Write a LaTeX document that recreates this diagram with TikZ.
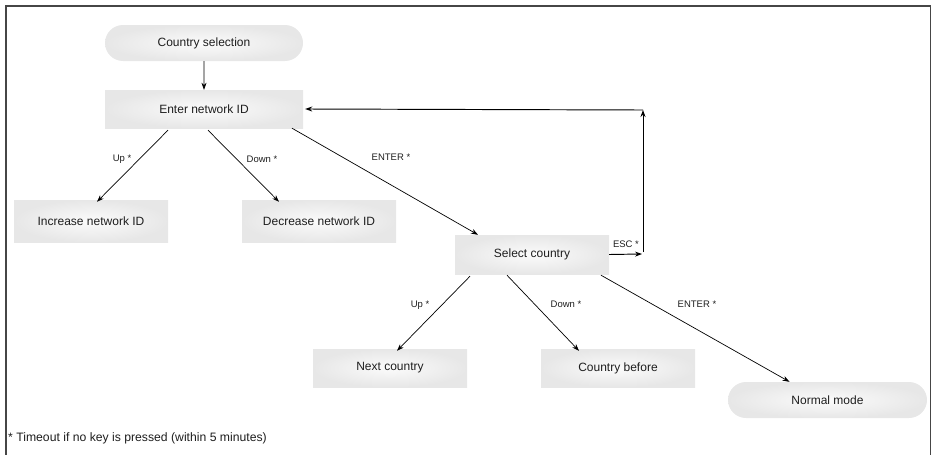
\documentclass[tikz,border=0pt]{standalone}
\usepackage{fontspec}
\setmainfont{Liberation Sans}
\usetikzlibrary{arrows.meta,shapes.misc}
\definecolor{boxedge}{RGB}{231,231,231}
\definecolor{boxmid}{RGB}{251,251,251}
\definecolor{frameline}{RGB}{70,70,70}
\definecolor{ink}{RGB}{30,30,30}
\tikzset{
  every node/.style={text=ink},
  statebox/.style={rectangle, inner sep=0pt, draw=none,
    inner color=boxmid, outer color=boxedge,
    font=\fontsize{12}{14}\selectfont},
  pillbox/.style={rounded rectangle, inner sep=0pt, draw=none,
    inner color=boxmid, outer color=boxedge,
    font=\fontsize{12}{14}\selectfont},
  keylabel/.style={font=\fontsize{9.5}{11}\selectfont, inner sep=0pt},
  flow/.style={draw=black, line width=0.7pt, -{Stealth[length=7pt,width=5pt]}},
  backflow/.style={draw=black, line width=0.95pt, -{Stealth[length=7pt,width=5pt]}},
}
\begin{document}
\begin{tikzpicture}[x=1pt,y=-1pt]
  \useasboundingbox (0,0) rectangle (932,455);
  % frame
  \draw[frameline, line width=1.6pt] (6,460) -- (6,6) -- (930.5,6) -- (930.5,460);

  % states
  \node[pillbox, minimum width=198pt, minimum height=36pt] (cs) at (204,43) {Country selection};
  \node[statebox, minimum width=198pt, minimum height=38pt] (enid) at (204,109) {Enter network ID};
  \node[statebox, minimum width=154pt, minimum height=42pt] (inc) at (91,221) {Increase network ID};
  \node[statebox, minimum width=154pt, minimum height=42pt] (dec) at (319,221) {Decrease network ID};
  \node[statebox, minimum width=154pt, minimum height=39pt] (sc) at (532,254.5) {Select country};
  \node[statebox, minimum width=154pt, minimum height=38pt] (next) at (390,368) {Next country};
  \node[statebox, minimum width=154pt, minimum height=38pt] (cb) at (618,368) {Country before};
  \node[pillbox, minimum width=199pt, minimum height=36pt] (nm) at (827.5,400) {Normal mode};

  % connectors
  \draw[flow] (cs) -- (enid);
  \draw[flow] ([xshift=-36pt,yshift=-2pt]enid.south) -- ([xshift=6pt,yshift=-2pt]inc.north);
  \draw[flow] ([xshift=4pt,yshift=-2pt]enid.south) -- ([xshift=-40pt,yshift=-2pt]dec.north);
  \draw[flow] ([xshift=88pt]enid.south) -- ([xshift=-54pt]sc.north);
  \draw[flow] ([xshift=-62pt,yshift=-2pt]sc.south) -- ([xshift=7pt,yshift=-2pt]next.north);
  \draw[flow] ([xshift=-25pt,yshift=-1pt]sc.south) -- ([xshift=-39pt,yshift=-2pt]cb.north);
  \draw[flow] ([xshift=69pt,yshift=-1pt]sc.south) -- ([xshift=-38pt]nm.north);

  % escape path back to network ID entry
  \coordinate (esc) at (642,254);
  \coordinate (escfoot) at (643,252);
  \coordinate (escup) at (643,110);
  \draw[backflow] (sc.east) -- (esc);
  \draw[backflow] (escfoot) -- (escup);
  \draw[backflow] (escup) -- ([xshift=2pt]enid.east);

  % key labels
  \node[keylabel] (l1) at (122,159) {Up *};
  \node[keylabel] (l2) at (262,159) {Down *};
  \node[keylabel] (l3) at (391,157) {ENTER *};
  \node[keylabel] (l4) at (626,244) {ESC *};
  \node[keylabel] (l5) at (420,305) {Up *};
  \node[keylabel] (l6) at (566,304) {Down *};
  \node[keylabel] (l7) at (697,304) {ENTER *};

  % footnote
  \node[anchor=west, inner sep=0pt, font=\fontsize{12.2}{14}\selectfont] (note) at (8,438) {* Timeout if no key is pressed (within 5 minutes)};
\end{tikzpicture}
\end{document}
